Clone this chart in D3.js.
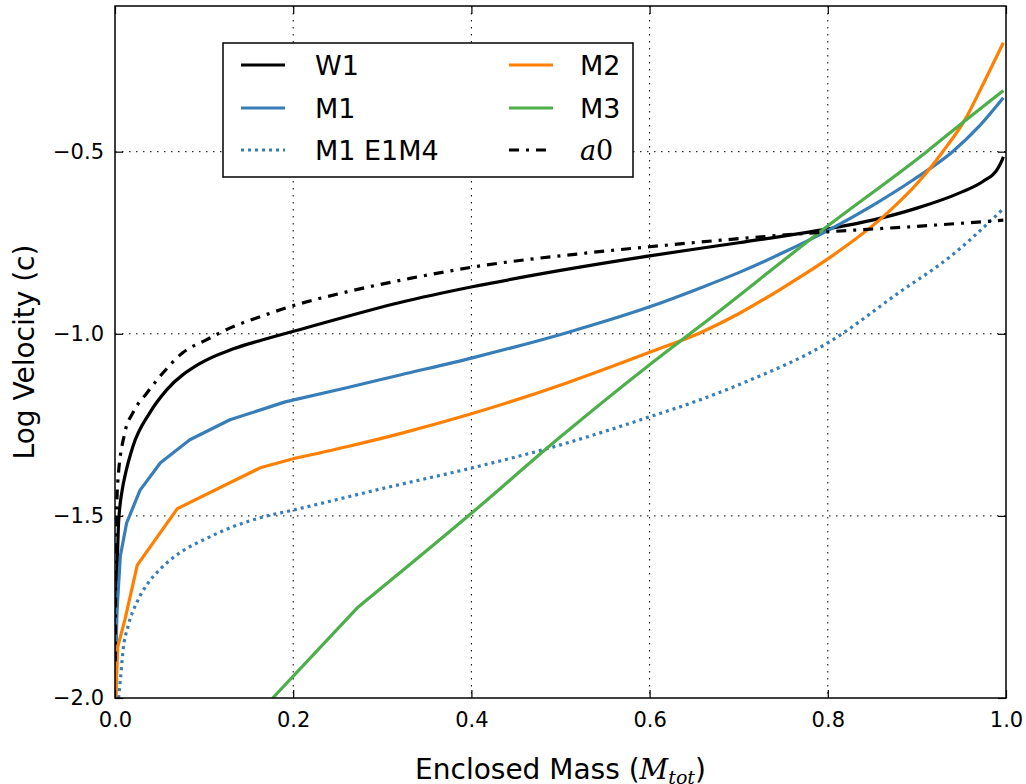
<!DOCTYPE html>
<html>
<head>
<meta charset="utf-8">
<script src="https://cdn.jsdelivr.net/npm/d3@7"></script>
<style>
  body { margin: 0; background: #fff; }
  svg { display: block; }
</style>
</head>
<body>
<div id="chart"></div>
<script>
// enclosed mass (M_tot) vs log velocity (c)
const w1 = [[0.0005,-2.0],[0.002,-1.72],[0.004,-1.52],[0.008,-1.43],[0.0112,-1.39],[0.02,-1.31],[0.039,-1.217],
  [0.058,-1.154],[0.095,-1.082],[0.132,-1.042],[0.171,-1.013],[0.208,-0.988],[0.32,-0.914],[0.401,-0.871],
  [0.5,-0.826],[0.6,-0.786],[0.7,-0.75],[0.8,-0.712],[0.85,-0.688],[0.9,-0.655],
  [0.948,-0.613],[0.974,-0.582],[0.99,-0.549],[0.9955,-0.524],[0.997,-0.514]];

const m1 = [[0.0005,-2.0],[0.002,-1.77],[0.006,-1.61],[0.013,-1.52],[0.028,-1.43],[0.051,-1.354],[0.084,-1.291],
  [0.129,-1.236],[0.191,-1.187],[0.26,-1.148],[0.32,-1.113],[0.401,-1.066],[0.507,-0.997],[0.6,-0.926],
  [0.657,-0.874],[0.7,-0.832],[0.75,-0.777],[0.802,-0.714],[0.85,-0.648],[0.896,-0.577],[0.94,-0.5],
  [0.97,-0.43],[0.997,-0.352]];

const m1e1m4 = [[0.004,-2.0],[0.006,-1.95],[0.009,-1.87],[0.015,-1.8],[0.025,-1.735],[0.037,-1.685],[0.05,-1.648],
  [0.064,-1.617],[0.08,-1.59],[0.1,-1.565],[0.132,-1.53],[0.163,-1.505],[0.2,-1.484],[0.3,-1.425],
  [0.401,-1.368],[0.5,-1.305],[0.6,-1.228],[0.657,-1.181],[0.705,-1.135],[0.802,-1.022],
  [0.881,-0.885],[0.937,-0.789],[0.996,-0.659]];

const m2 = [[0.001,-2.0],[0.003,-1.86],[0.011,-1.786],[0.025,-1.635],[0.07,-1.48],[0.163,-1.368],[0.2,-1.343],
  [0.26,-1.31],[0.32,-1.274],[0.401,-1.219],[0.507,-1.135],[0.6,-1.051],[0.657,-0.997],[0.7,-0.945],
  [0.75,-0.873],[0.802,-0.791],[0.862,-0.679],[0.903,-0.58],[0.929,-0.5],[0.954,-0.412],[0.974,-0.316],
  [0.997,-0.201]];

const m3 = [[0.177,-2.0],[0.273,-1.75],[0.398,-1.497],[0.499,-1.285],[0.6,-1.085],[0.657,-0.978],
  [0.802,-0.70],[0.911,-0.5],[0.954,-0.415],[0.997,-0.332]];

const a0 = [[0.0003,-1.9],[0.001,-1.6],[0.003,-1.41],[0.011,-1.272],[0.02,-1.217],[0.036,-1.162],[0.054,-1.107],
  [0.076,-1.052],[0.103,-1.016],[0.132,-0.981],[0.163,-0.953],[0.193,-0.928],[0.26,-0.885],[0.331,-0.848],
  [0.401,-0.817],[0.53,-0.778],[0.6,-0.761],[0.657,-0.748],[0.8,-0.72],[0.9,-0.705],[0.997,-0.688]];

const xTicks = [0, 0.2, 0.4, 0.6, 0.8, 1.0];
const yTicks = [-2.0, -1.5, -1.0, -0.5];

// kinkTo: points up to this mass are joined with straight segments, the rest smoothly
const series = [
  { name: "W1", data: w1, color: "#000000", dash: null, kinkTo: 0 },
  { name: "M1", data: m1, color: "#377eb8", dash: null, kinkTo: 0.191 },
  { name: "M1 E1M4", data: m1e1m4, color: "#377eb8", dash: "3,4", kinkTo: 0 },
  { name: "M2", data: m2, color: "#ff7f00", dash: null, kinkTo: 0.2 },
  { name: "M3", data: m3, color: "#4daf4a", dash: null, kinkTo: 0.273 },
  { name: "a0", data: a0, color: "#000000", dash: "10,7,3,7", kinkTo: 0 }
];

const W = 1026, H = 784;
const margin = { top: 6, right: 20, bottom: 86, left: 115 };
const width = 891, height = 692;

const svg = d3.select("#chart").append("svg")
  .attr("width", W).attr("height", H);

const g = svg.append("g").attr("transform", `translate(${margin.left},${margin.top})`);

const x = d3.scaleLinear().domain([0, 1]).range([0, width]);
const y = d3.scaleLinear().domain([-2, -0.1]).range([height, 0]);

const fmt = d => d3.format(".1f")(d).replace("-", "\u2212");

// grid
g.append("g").selectAll("line").data(xTicks.slice(1, -1)).enter().append("line")
  .attr("x1", d => x(d)).attr("x2", d => x(d)).attr("y1", 0).attr("y2", height)
  .attr("stroke", "#000").attr("stroke-width", 1).attr("stroke-dasharray", "1.5,5.5");
g.append("g").selectAll("line").data(yTicks.slice(1)).enter().append("line")
  .attr("y1", d => y(d)).attr("y2", d => y(d)).attr("x1", 0).attr("x2", width)
  .attr("stroke", "#000").attr("stroke-width", 1).attr("stroke-dasharray", "1.5,5.5");

// curves
g.append("clipPath").attr("id", "clip").append("rect")
  .attr("width", width).attr("height", height);

const straight = d3.line().x(p => x(p[0])).y(p => y(p[1])).curve(d3.curveLinear);
const smooth = d3.line().x(p => x(p[0])).y(p => y(p[1])).curve(d3.curveMonotoneX);
const pathFor = s => {
  const a = s.data.filter(p => p[0] <= s.kinkTo);
  const b = s.data.filter(p => p[0] >= (a.length ? a[a.length - 1][0] : 0));
  return (a.length > 1 ? straight(a) : "") + smooth(b);
};

g.append("g").attr("clip-path", "url(#clip)")
  .selectAll("path").data(series).enter().append("path")
  .attr("d", pathFor)
  .attr("fill", "none")
  .attr("stroke", d => d.color)
  .attr("stroke-width", 3.2)
  .attr("stroke-linejoin", "round")
  .attr("stroke-dasharray", d => d.dash);

// axes with inward ticks on all sides
const tickStyle = a => {
  a.select(".domain").remove();
  a.selectAll(".tick line").attr("stroke", "#000").attr("stroke-width", 1.2);
  a.selectAll(".tick text").attr("fill", "#000")
    .style("font-family", "DejaVu Sans").style("font-size", "21px");
};

g.append("g").attr("transform", `translate(0,${height})`)
  .call(d3.axisBottom(x).tickValues(xTicks).tickFormat(fmt).tickSizeInner(-8).tickPadding(14))
  .call(tickStyle);
g.append("g")
  .call(d3.axisTop(x).tickValues(xTicks).tickFormat("").tickSizeInner(-8))
  .call(tickStyle);
g.append("g")
  .call(d3.axisLeft(y).tickValues(yTicks).tickFormat(fmt).tickSizeInner(-8).tickPadding(11))
  .call(tickStyle);
g.append("g").attr("transform", `translate(${width},0)`)
  .call(d3.axisRight(y).tickValues(yTicks).tickFormat("").tickSizeInner(-8))
  .call(tickStyle);

g.append("rect").attr("width", width).attr("height", height)
  .attr("fill", "none").attr("stroke", "#000").attr("stroke-width", 1.5);

// axis labels
const xl = svg.append("text")
  .attr("x", margin.left + width / 2).attr("y", 779)
  .attr("text-anchor", "middle")
  .style("font-family", "DejaVu Sans").style("font-size", "28px");
xl.append("tspan").text("Enclosed Mass (");
xl.append("tspan").style("font-family", "DejaVu Serif").style("font-style", "italic").text("M");
xl.append("tspan").style("font-family", "DejaVu Serif").style("font-style", "italic")
  .style("font-size", "19px").attr("dy", 5).text("tot");
xl.append("tspan").attr("dy", -5).text(")");

svg.append("text")
  .attr("transform", `translate(34,${margin.top + height / 2}) rotate(-90)`)
  .attr("text-anchor", "middle")
  .style("font-family", "DejaVu Sans").style("font-size", "28px")
  .text("Log Velocity (c)");

// legend
const legend = svg.append("g");
legend.append("rect")
  .attr("x", 223).attr("y", 43).attr("width", 410).attr("height", 134)
  .attr("fill", "#fff").attr("stroke", "#000").attr("stroke-width", 1.5);

const cols = [[0, 1, 2], [3, 4, 5]];
const colX = [241, 509], textX = [315, 580], rowY = [65, 108, 150];
cols.forEach((col, ci) => {
  col.forEach((si, ri) => {
    const s = series[si];
    legend.append("line")
      .attr("x1", colX[ci]).attr("x2", colX[ci] + 44)
      .attr("y1", rowY[ri]).attr("y2", rowY[ri])
      .attr("stroke", s.color).attr("stroke-width", 3.2)
      .attr("stroke-dasharray", s.dash);
    const t = legend.append("text")
      .attr("x", textX[ci]).attr("y", rowY[ri]).attr("dy", "0.36em")
      .style("font-family", "DejaVu Sans").style("font-size", "27px");
    if (s.name === "a0") {
      t.style("font-family", "DejaVu Serif");
      t.append("tspan").style("font-style", "italic").text("a");
      t.append("tspan").text("0");
    } else {
      t.text(s.name);
    }
  });
});
</script>
</body>
</html>
